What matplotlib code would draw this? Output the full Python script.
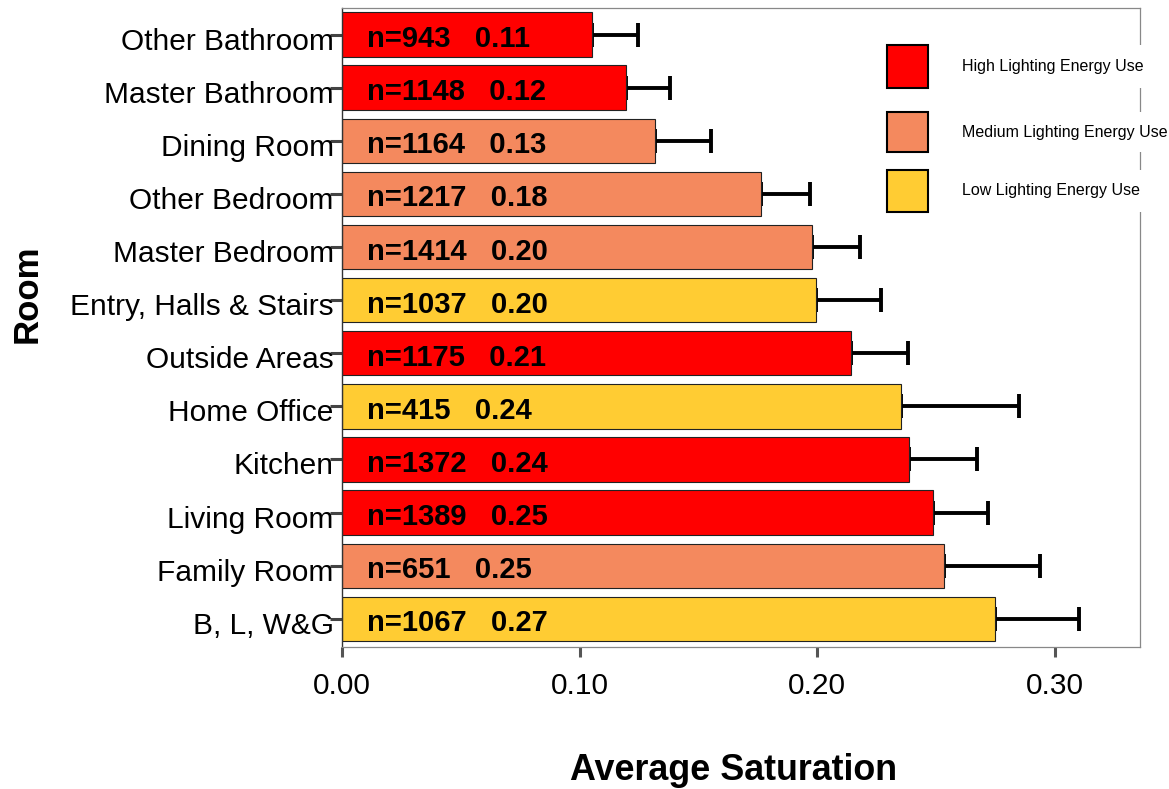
import matplotlib
matplotlib.use("Agg")
import matplotlib.pyplot as plt
import matplotlib.patches as patches
from matplotlib.transforms import ScaledTranslation

plt.rcParams["font.family"] = ["Liberation Sans", "DejaVu Sans"]

# rooms from top to bottom
rooms = ["Other Bathroom", "Master Bathroom", "Dining Room", "Other Bedroom",
         "Master Bedroom", "Entry, Halls & Stairs", "Outside Areas", "Home Office",
         "Kitchen", "Living Room", "Family Room", "B, L, W&G"]
n_obs = [943, 1148, 1164, 1217, 1414, 1037, 1175, 415, 1372, 1389, 651, 1067]
means = [0.1052, 0.1196, 0.1318, 0.1764, 0.1979, 0.1996,
         0.2143, 0.2354, 0.2387, 0.2488, 0.2535, 0.2749]
shown = ["0.11", "0.12", "0.13", "0.18", "0.20", "0.20",
         "0.21", "0.24", "0.24", "0.25", "0.25", "0.27"]
upper = [0.1246, 0.1380, 0.1554, 0.1970, 0.2180, 0.2270,
         0.2383, 0.2850, 0.2674, 0.2720, 0.2939, 0.3103]
level = ["High", "High", "Medium", "Medium", "Medium", "Low",
         "High", "Low", "High", "High", "Medium", "Low"]

levels = ["High", "Medium", "Low"]
colors = {"High": "#FF0000", "Medium": "#F4895E", "Low": "#FFCC33"}
legend_labels = {"High": "High Lighting Energy Use",
                 "Medium": "Medium Lighting Energy Use",
                 "Low": "Low Lighting Energy Use"}

W, H = 1169, 789
fig = plt.figure(figsize=(W / 100, H / 100), dpi=100)
ax = fig.add_axes([342 / W, 1 - 647 / H, 798 / W, 639 / H])

ypos = list(range(len(rooms)))
err_hi = [u - m for u, m in zip(upper, means)]
err_lo = [0] * len(means)

ax.errorbar(means, ypos, xerr=[err_lo, err_hi], fmt="none", ecolor="black",
            elinewidth=2.8, capsize=8.6, capthick=2.8, zorder=1)
ax.barh(ypos, means, height=0.835, color=[colors[l] for l in level],
        edgecolor="#222222", linewidth=0.8, zorder=2)

for y, n, s in zip(ypos, n_obs, shown):
    ax.text(0.0105, y + 0.085, f"n={n}   {s}", ha="left", va="center",
            fontsize=21, fontweight="bold", color="black", zorder=3)

ax.set_ylim(11.53, -0.5)
ax.set_xlim(0, 0.336)
ax.set_yticks(ypos)
ax.set_yticklabels(rooms, fontsize=21.5)
ax.set_xticks([0, 0.1, 0.2, 0.3])
ax.set_xticklabels(["0.00", "0.10", "0.20", "0.30"], fontsize=21.5)
ax.tick_params(axis="y", length=9, width=2.2, color="#444444", pad=-3)
ax.tick_params(axis="x", length=7, width=2.2, color="#555555", pad=11)
shift = ScaledTranslation(0, -0.04, fig.dpi_scale_trans)
for lab in ax.get_yticklabels():
    lab.set_transform(lab.get_transform() + shift)

for side in ["top", "right", "bottom"]:
    ax.spines[side].set_color("#888888")
    ax.spines[side].set_linewidth(0.9)
ax.spines["left"].set_color("#333333")
ax.spines["left"].set_linewidth(1.0)

ax.set_xlabel("Average Saturation", fontsize=25.8, fontweight="bold", va="center")
ax.xaxis.set_label_coords((734 - 342) / 798, (647 - 771) / 639)
ax.set_ylabel("Room", fontsize=25, fontweight="bold", va="center")
ax.yaxis.set_label_coords((27 - 342) / 798, (647 - 294) / 639)

# legend drawn by hand: swatch, white strip behind the text, text
def px_to_ax(x, y):
    return (x - 342) / 798, (647 - y) / 639

rows = [(45, 88), (112, 152), (170, 212)]
for k, (top, bot) in zip(levels, rows):
    x0, y0 = px_to_ax(887, bot)
    x1, y1 = px_to_ax(928, top)
    ax.add_patch(patches.Rectangle((x0, y0), x1 - x0, y1 - y0, transform=ax.transAxes,
                                   facecolor=colors[k], edgecolor="black",
                                   linewidth=1.5, clip_on=False, zorder=6))
    wx0, _ = px_to_ax(955, bot)
    wx1, _ = px_to_ax(1169, top)
    ax.add_patch(patches.Rectangle((wx0, y0), wx1 - wx0, y1 - y0, transform=ax.transAxes,
                                   facecolor="white", edgecolor="none",
                                   clip_on=False, zorder=6))
    tx, ty = px_to_ax(962, (top + bot) / 2)
    ax.text(tx, ty, legend_labels[k], transform=ax.transAxes, ha="left",
            va="center", fontsize=11.5, zorder=7, clip_on=False)

fig.savefig("out.png", dpi=100)
